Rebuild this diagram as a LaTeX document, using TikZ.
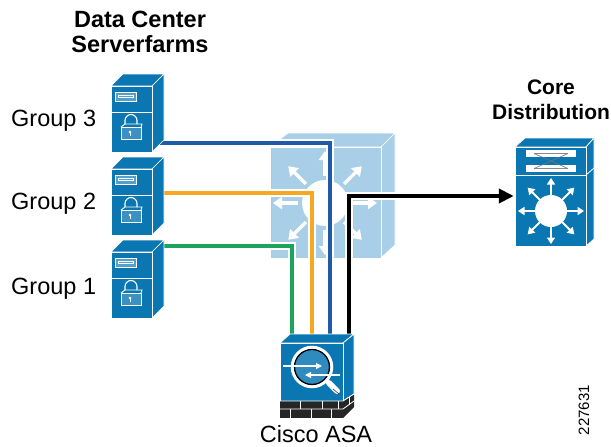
\documentclass[tikz,border=0pt]{standalone}
\usepackage{fontspec}
\setmainfont{Liberation Sans}
\usetikzlibrary{arrows.meta}
\definecolor{ciscoblue}{HTML}{0A77B3}
\definecolor{lightblue}{HTML}{A9CEE8}
\definecolor{linkblue}{HTML}{1F5BA6}
\definecolor{linkorange}{HTML}{F7A823}
\definecolor{linkgreen}{HTML}{1CA45C}
\tikzset{
  facef/.style={fill=#1,draw=white,line width=0.7pt,line join=round},
  halo/.style={draw=white,line width=8pt},
  linkline/.style={draw=#1,line width=4pt},
  lab/.style={font=\fontsize{23.5}{28}\selectfont,inner sep=0pt},
  blab/.style={font=\fontsize{23.5}{25}\selectfont\bfseries,inner sep=0pt,align=center},
  wa/.style={draw=white,line width=#1,-{Triangle[length=6.5pt,width=8pt]}},
  wb/.style={draw=white,line width=#1,-{Triangle[length=9pt,width=12pt]}},
  anchorbox/.style={inner sep=0pt,minimum width=0pt,minimum height=0pt}
}
\newcommand{\serverbox}[1]{%
  \begin{scope}[yshift=#1pt]
    \path[facef=ciscoblue] (111,86) -- (123,74) -- (164,74) -- (152,86) -- cycle;
    \path[facef=ciscoblue] (152,86) -- (164,74) -- (164,140) -- (152,152) -- cycle;
    \path[facef=ciscoblue] (111,86) rectangle (152,152);
    \draw[white,line width=0.7pt] (111,112) -- (152,112);
    \draw[white,line width=0.8pt,fill=ciscoblue!70!white] (115.5,92) rectangle (136,101);
    \draw[white,line width=0.8pt] (118,95.5) rectangle (133.5,97.5);
    \draw[white,line width=1.1pt] (125,124) -- (125,120.5) arc[start angle=180,end angle=360,x radius=6,y radius=6] -- (137,124);
    \draw[white,line width=0.9pt,fill=ciscoblue!80!white] (121,127) -- (141,127) -- (141,139) -- (121,139) -- cycle;
    \draw[white,line width=0.9pt] (121,127) -- (125,124) -- (142,124) -- (141,127);
    \fill[white] (130,132) circle (1.4);
    \draw[white,line width=0.8pt] (130,132) -- (130,136);
  \end{scope}
}
\begin{document}
\begin{tikzpicture}[x=1pt,y=-1pt]
\useasboundingbox (0,0) rectangle (611,447);
\fill[white] (0,0) rectangle (611,447);

% light multilayer switch
\path[facef=lightblue] (270,147) -- (288,133) -- (395,133) -- (381,147) -- cycle;
\path[facef=lightblue] (381,147) -- (395,133) -- (395,245) -- (381,258) -- cycle;
\path[facef=lightblue] (270,147) rectangle (381,258);
\fill[white] (325,203) circle (23);
\foreach \a in {0,45,...,315}{
  \draw[wb=3.5pt] (325,203) ++(\a:27) -- ++(\a:25);
}

% named connector ends
\coordinate (g3) at (160,143);
\coordinate (g2) at (160,193);
\coordinate (g1) at (160,246);
\coordinate (asa3) at (330,340);
\coordinate (asa2) at (312,340);
\coordinate (asa1) at (292,340);
\coordinate (asa4) at (349,340);

% links
\path[halo] (g1) -| (asa1);
\draw[linkline=linkgreen] (g1) -| (asa1);
\path[halo] (g2) -| (asa2);
\draw[linkline=linkorange] (g2) -| (asa2);
\path[halo] (g3) -| (asa3);
\draw[linkline=linkblue] (g3) -| (asa3);

% servers
\serverbox{0}
\serverbox{-83}
\serverbox{-166}

% core switch
\path[facef=ciscoblue] (515,147) -- (525,138) -- (594,138) -- (586,147) -- cycle;
\path[facef=ciscoblue] (586,147) -- (594,138) -- (594,239) -- (586,246) -- cycle;
\path[facef=ciscoblue] (515,147) rectangle (586,246);
\draw[white,line width=0.8pt] (515,175) -- (586,175);
\draw[white,line width=0.8pt] (586,175) -- (594,168);
\fill[white] (526,150) rectangle (576,157);
\fill[white] (526,165) rectangle (576,172);
\draw[black!45,line width=0.6pt] (534,153.5) -- (568,153.5) (534,168.5) -- (568,168.5);
\draw[black!55,line width=0.6pt] (534,153.5) -- (568,168.5) (534,168.5) -- (568,153.5);
\fill[white] (551,211) circle (16);
\foreach \a in {0,45,...,315}{
  \draw[wa=2pt] (551,211) ++(\a:15) -- ++(\a:18);
}

% black link with arrow to core
\node[anchorbox] (core) at (514,196) {};
\path[halo] (asa4) |- (core);
\draw[line width=4pt,black,-{Triangle[length=15pt,width=14pt]}] (asa4) |- (core);

% ASA
\path[facef=ciscoblue] (280,343) -- (290,334) -- (354,334) -- (343,343) -- cycle;
\path[facef=ciscoblue] (343,343) -- (354,334) -- (354,394) -- (343,401) -- cycle;
\path[facef=ciscoblue] (280,343) rectangle (343,401);
\fill[black!85] (280,401) rectangle (343,418);
\fill[black!85] (343,401) -- (354,394) -- (354,407) -- (343,418) -- cycle;
\draw[white,line width=0.8pt] (280,401) -- (343,401) -- (354,394);
\draw[white,line width=0.8pt] (280,409) -- (343,409) -- (354,401);
\foreach \x in {300,322,338}{\draw[white,line width=0.8pt] (\x,401) -- (\x,409);}
\foreach \x in {290,311,331}{\draw[white,line width=0.8pt] (\x,409) -- (\x,418);}
\draw[white,line width=0.8pt] (349,397) -- (349,405);
\draw[white,line width=6pt,line cap=round] (329,383) -- (337,391);
\draw[black!75,line width=0.6pt] (333,389) -- (339,394);
\draw[white,line width=3.5pt,fill=ciscoblue!85!white] (312,367) circle (19.5);
\draw[black,line width=1.3pt] (312,367) circle (17.5);
\draw[white,line width=1.1pt,-{Triangle[length=6pt,width=6pt]}] (283,366) -- (322,366);
\draw[white,line width=1.1pt,-{Triangle[length=6pt,width=6pt]}] (340,375) -- (305,375);

% labels
\node[blab] (title) at (140,32) {Data Center\\Serverfarms};
\node[lab,anchor=west] (g3t) at (11,121) {Group 3};
\node[lab,anchor=west] (g2t) at (11,204) {Group 2};
\node[lab,anchor=west] (g1t) at (11,289) {Group 1};
\node[font=\fontsize{21}{25}\selectfont\bfseries,inner sep=0pt,align=center] (coret) at (551,100) {Core\\Distribution};
\node[lab] (asat) at (316,434) {Cisco ASA};
\node[font=\fontsize{15}{18}\selectfont,inner sep=0pt,rotate=90] (num) at (584,410) {227631};
\end{tikzpicture}
\end{document}
